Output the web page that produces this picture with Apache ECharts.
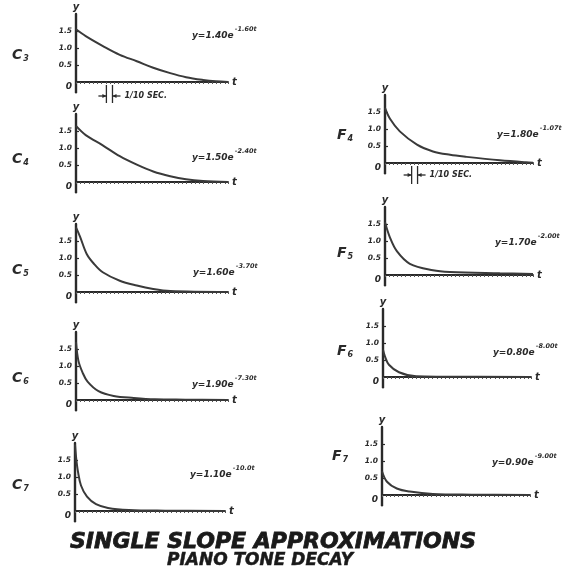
<!DOCTYPE html>
<html><head><meta charset="utf-8">
<script src="https://cdn.jsdelivr.net/npm/echarts@6/dist/echarts.min.js"></script>
<style>html,body{margin:0;padding:0;background:#fff}#c{width:587px;height:579px}</style>
</head><body><div id="c"></div>
<script>
// ---------- DATA ----------
const panelNames = ['C3','C4','C5','C6','C7','F4','F5','F6','F7'];
const eqCoef = ['1.40','1.50','1.60','1.90','1.10','1.80','1.70','0.80','0.90'];
const eqExp  = ['-1.60t','-2.40t','-3.70t','-7.30t','-10.0t','-1.07t','-2.00t','-8.00t','-9.00t'];
const yTickValues = [0, 0.5, 1.0, 1.5];
const timeMarkC3 = [0.5, 0.6];   // 1/10 sec marker (seconds)
const timeMarkF4 = [0.45, 0.55];

const tC3 = [0, 0.16, 0.45, 0.72, 1.0, 1.27, 1.55, 1.81, 2.09, 2.3, 2.5];
const yC3 = [1.55, 1.35, 1.05, 0.80, 0.61, 0.42, 0.26, 0.14, 0.06, 0.02, 0.0];
const tC4 = [0, 0.16, 0.44, 0.72, 1.0, 1.27, 1.55, 1.81, 2.09, 2.5];
const yC4 = [1.65, 1.38, 1.08, 0.76, 0.51, 0.31, 0.17, 0.08, 0.03, 0.0];
const tC5 = [0, 0.066, 0.176, 0.3, 0.44, 0.72, 1.0, 1.27, 1.55, 2.5];
const yC5 = [1.90, 1.63, 1.12, 0.82, 0.58, 0.33, 0.19, 0.09, 0.03, 0.0];
const tC6 = [0, 0.04, 0.11, 0.19, 0.37, 0.62, 0.95, 1.3, 1.8, 2.5];
const yC6 = [1.70, 1.15, 0.80, 0.54, 0.26, 0.12, 0.06, 0.02, 0.01, 0.0];
const tC7 = [0, 0.02, 0.05, 0.1, 0.2, 0.35, 0.55, 0.9, 1.5, 2.5];
const yC7 = [1.95, 1.55, 1.15, 0.75, 0.42, 0.20, 0.09, 0.03, 0.01, 0.0];
const tF4 = [0, 0.084, 0.25, 0.54, 0.81, 1.1, 1.38, 1.94, 2.38, 2.5];
const yF4 = [1.62, 1.30, 0.93, 0.54, 0.34, 0.24, 0.18, 0.08, 0.02, 0.01];
const tF5 = [0, 0.084, 0.2, 0.42, 0.81, 1.1, 1.94, 2.5];
const yF5 = [1.55, 1.10, 0.70, 0.33, 0.14, 0.09, 0.05, 0.03];
const tF6 = [0, 0.034, 0.1, 0.27, 0.56, 1.0, 2.5];
const yF6 = [0.80, 0.60, 0.36, 0.14, 0.02, 0.01, 0.0];
const tF7 = [0, 0.084, 0.25, 0.47, 0.86, 1.52, 2.5];
const yF7 = [0.70, 0.39, 0.19, 0.10, 0.03, 0.01, 0.0];

const seriesT = [tC3, tC4, tC5, tC6, tC7, tF4, tF5, tF6, tF7];
const seriesY = [yC3, yC4, yC5, yC6, yC7, yF4, yF5, yF6, yF7];

// ---------- LAYOUT / STYLE ----------
const FONT = 'DejaVu Sans';
const INK = '#2a2a2a';
const PX_PER_UNIT = 34;
const Y_MAX = 2.0, Y_MIN = -0.3, T_MAX = 2.5;
const layout = [
  {left:76, axisY:82,  width:152, label:[12,55],  eq:[192,33]},
  {left:76, axisY:182, width:152, label:[12,159], eq:[192,155]},
  {left:76, axisY:292, width:152, label:[12,270], eq:[193,270]},
  {left:76, axisY:400, width:152, label:[12,378], eq:[192,382]},
  {left:75, axisY:511, width:150, label:[12,485], eq:[190,472]},
  {left:385, axisY:163, width:148, label:[337,135], eq:[497,132]},
  {left:385, axisY:275, width:148, label:[337,253], eq:[495,240]},
  {left:383, axisY:377, width:148, label:[337,351], eq:[493,350]},
  {left:382, axisY:495, width:148, label:[332,456], eq:[492,460]}
];

const boldItalic = {fontFamily: FONT, fontWeight: 'bold', fontStyle: 'italic'};
const grids = [], xAxes = [], yAxes = [], series = [], graphics = [];
panelNames.forEach((name, i) => {
  const L = layout[i];
  const top = L.axisY - Y_MAX * PX_PER_UNIT;
  const height = (Y_MAX - Y_MIN) * PX_PER_UNIT;
  grids.push({left: L.left, top: top, width: L.width, height: height, containLabel: false});
  xAxes.push({
    type: 'value', gridIndex: i, min: 0, max: T_MAX, interval: 0.07,
    name: 't', nameLocation: 'end', nameGap: 4,
    nameTextStyle: Object.assign({fontSize: 10, color: INK, verticalAlign: 'middle', padding:[4,0,0,0]}, boldItalic),
    axisLine: {onZero: true, lineStyle: {color: INK, width: 1.8}},
    axisTick: {show: true, length: 2, inside: false, lineStyle: {color: '#555', width: 1}},
    axisLabel: {show: false}, splitLine: {show: false}
  });
  yAxes.push({
    type: 'value', gridIndex: i, min: Y_MIN, max: Y_MAX,
    name: 'y', nameLocation: 'end', nameGap: 2,
    nameTextStyle: Object.assign({fontSize: 10, color: INK}, boldItalic),
    axisLine: {lineStyle: {color: INK, width: 2.4}},
    axisTick: {show: true, customValues: yTickValues.slice(1), length: 3, inside: true, lineStyle: {color: INK, width: 1.2}},
    axisLabel: Object.assign({
      show: true, customValues: yTickValues, margin: 4, fontSize: 7.5, color: INK,
      formatter: v => v === 0 ? '{z|0}' : v.toFixed(1),
      rich: {z: Object.assign({fontSize: 9, color: INK, padding: [10, 0, 0, 0]}, boldItalic)}
    }, boldItalic),
    splitLine: {show: false}
  });
  series.push({
    type: 'line', xAxisIndex: i, yAxisIndex: i,
    data: seriesT[i].map((t, k) => [t, seriesY[i][k]]),
    smooth: 0.35, symbol: 'none',
    lineStyle: {color: '#3a3a3a', width: 2}, silent: true, animation: false
  });
  const sub = name.slice(1);
  graphics.push({
    type: 'text', x: L.label[0], y: L.label[1],
    style: {
      text: '{c|' + name[0] + '}{s|' + sub + '}', verticalAlign: 'middle',
      rich: {
        c: Object.assign({fontSize: 14, fill: INK}, boldItalic),
        s: Object.assign({fontSize: 8, fill: INK, verticalAlign: 'bottom', padding: [8,0,0,1]}, boldItalic)
      }
    }
  });
  graphics.push({
    type: 'text', x: L.eq[0], y: L.eq[1],
    style: {
      text: '{a|y=' + eqCoef[i] + 'e}{b|' + eqExp[i] + '}', verticalAlign: 'middle',
      rich: {
        a: Object.assign({fontSize: 9, fill: INK, lineHeight: 14, verticalAlign: 'bottom'}, boldItalic),
        b: Object.assign({fontSize: 6.5, fill: INK, verticalAlign: 'top', padding:[0,0,0,1]}, boldItalic)
      }
    }
  });
});

graphics.push({
  type: 'text', x: 273, y: 542,
  style: Object.assign({text: 'SINGLE SLOPE APPROXIMATIONS', align: 'center', verticalAlign: 'middle',
    fontSize: 22, fill: '#1a1a1a', stroke: '#1a1a1a', lineWidth: 0.8}, boldItalic)
});
graphics.push({
  type: 'text', x: 260, y: 561,
  style: Object.assign({text: 'PIANO TONE DECAY', align: 'center', verticalAlign: 'middle',
    fontSize: 17, fill: '#1a1a1a', stroke: '#1a1a1a', lineWidth: 0.5}, boldItalic)
});

const chart = echarts.init(document.getElementById('c'), null, {renderer: 'canvas'});
chart.setOption({
  backgroundColor: '#ffffff', animation: false,
  grid: grids, xAxis: xAxes, yAxis: yAxes, series: series, graphic: graphics
});

// 1/10 sec markers, positioned through the axes
function timeMarker(idx, mark, textOffsetY) {
  const p0 = chart.convertToPixel({xAxisIndex: idx, yAxisIndex: idx}, [mark[0], 0]);
  const p1 = chart.convertToPixel({xAxisIndex: idx, yAxisIndex: idx}, [mark[1], 0]);
  const y0 = p0[1] + 3, y1 = p0[1] + 21, ya = p0[1] + textOffsetY;
  const ls = {stroke: INK, lineWidth: 1.3};
  return [
    {type:'line', shape:{x1:p0[0], y1:y0, x2:p0[0], y2:y1}, style: ls},
    {type:'line', shape:{x1:p1[0], y1:y0, x2:p1[0], y2:y1}, style: ls},
    {type:'line', shape:{x1:p0[0]-8, y1:ya, x2:p0[0], y2:ya}, style: ls},
    {type:'polygon', shape:{points:[[p0[0],ya],[p0[0]-4,ya-2],[p0[0]-4,ya+2]]}, style:{fill: INK}},
    {type:'line', shape:{x1:p1[0], y1:ya, x2:p1[0]+8, y2:ya}, style: ls},
    {type:'polygon', shape:{points:[[p1[0],ya],[p1[0]+4,ya-2],[p1[0]+4,ya+2]]}, style:{fill: INK}},
    {type:'text', x: p1[0] + 12, y: ya, style: Object.assign({text:'1/10 SEC.', verticalAlign:'middle', fontSize: 8, fill: INK}, boldItalic)}
  ];
}
const extra = timeMarker(0, timeMarkC3, 14).concat(timeMarker(5, timeMarkF4, 12));
chart.setOption({graphic: graphics.concat(extra)});
</script>
</body></html>
